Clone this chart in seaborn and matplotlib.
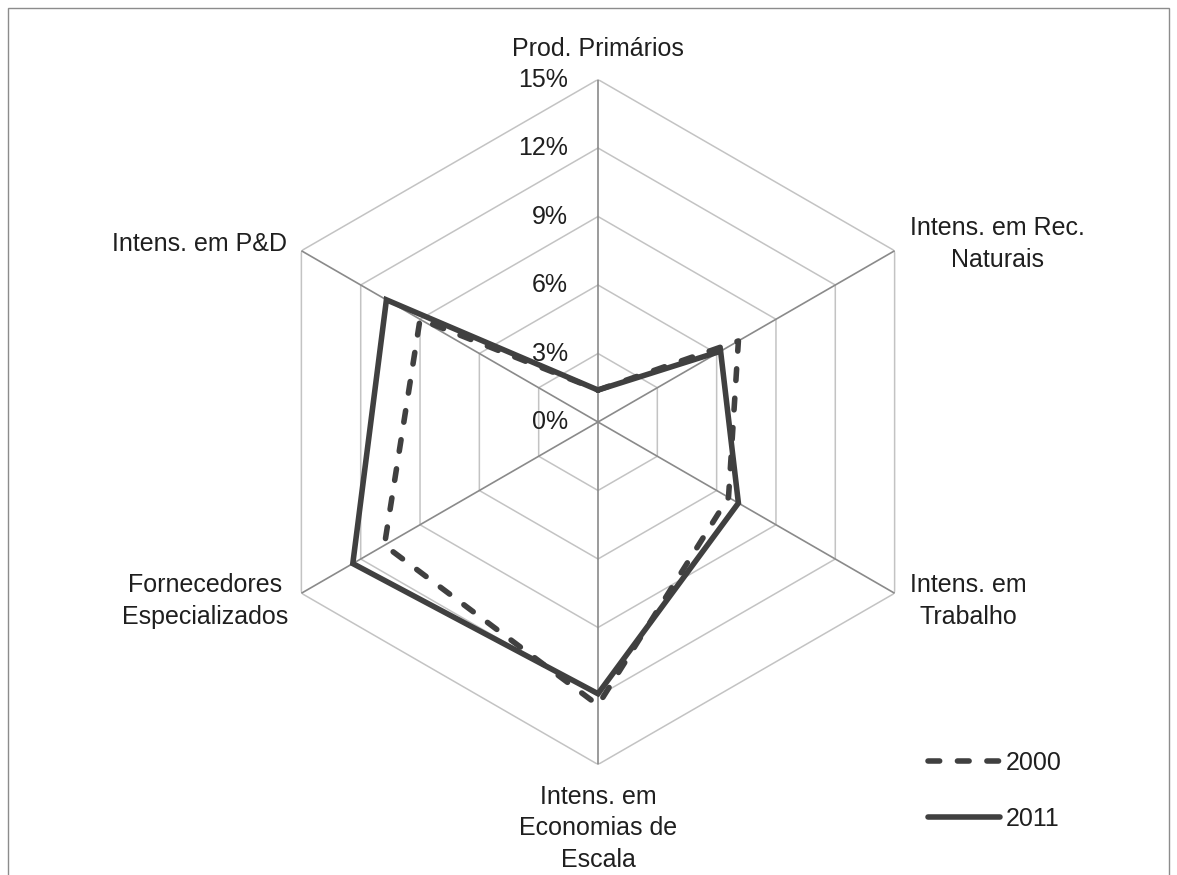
import numpy as np
import pandas as pd
import matplotlib
matplotlib.use("Agg")
import matplotlib.pyplot as plt
from matplotlib.lines import Line2D
from matplotlib.patches import Rectangle
import seaborn as sns

# Share of exports by technological intensity (%)
categories = [
    "Prod. Primários",
    "Intens. em Rec.\nNaturais",
    "Intens. em\nTrabalho",
    "Intens. em\nEconomias de\nEscala",
    "Fornecedores\nEspecializados",
    "Intens. em P&D",
]
years = ["2000", "2011"]
values_2000 = [1.4, 7.1, 6.6, 12.4, 10.8, 9.0]
values_2011 = [1.4, 6.2, 7.1, 11.9, 12.4, 10.7]
ticks = [0, 3, 6, 9, 12, 15]
tick_labels = ["0%", "3%", "6%", "9%", "12%", "15%"]

sns.set_theme(style="white")
plt.rcParams["font.family"] = ["Liberation Sans", "DejaVu Sans"]
plt.rcParams["lines.dash_capstyle"] = "round"
plt.rcParams["lines.solid_capstyle"] = "round"
plt.rcParams["lines.solid_joinstyle"] = "miter"

TEXT = "#1f1f1f"
LINE = "#404040"
RING = "#c3c3c3"
SPOKE = "#8a8a8a"
FS = 18

W, H = 1177, 875
fig = plt.figure(figsize=(W / 100, H / 100), dpi=100)
fig.patch.set_facecolor("white")

cx, cy, R = 598, 422, 342.5
ax = fig.add_axes([(cx - R) / W, (H - cy - R) / H, 2 * R / W, 2 * R / H],
                  projection="polar")
ax.set_theta_offset(np.pi / 2)
ax.set_theta_direction(-1)
ax.grid(False)
ax.spines["polar"].set_visible(False)
ax.set_facecolor("none")

n = len(categories)
angles = np.arange(n) * 2 * np.pi / n
closed = np.append(angles, 2 * np.pi)

# hexagonal grid rings and spokes
for t in ticks[1:]:
    ax.plot(closed, [t] * (n + 1), color=RING, lw=1.1, zorder=1)
for a in angles:
    ax.plot([a, a], [0, ticks[-1]], color=SPOKE, lw=1.2, zorder=1.5)

# series
rows = []
for year, vals in zip(years, [values_2000, values_2011]):
    for th, v in zip(closed, vals + vals[:1]):
        rows.append({"theta": th, "value": v, "year": year})
df = pd.DataFrame(rows)

dash_2000 = (2.1, 3.2)
sns.lineplot(data=df, x="theta", y="value", hue="year", style="year",
             palette={"2000": LINE, "2011": LINE},
             dashes={"2000": dash_2000, "2011": ""},
             sort=False, estimator=None, lw=4, legend=False, ax=ax, zorder=3)

ax.set_xticks([])
ax.set_yticks([])
ax.set_xlabel("")
ax.set_ylabel("")
ax.set_ylim(0, ticks[-1])

# radial tick labels along the top spoke
for t, lab in zip(ticks, tick_labels):
    ax.annotate(lab, xy=(0, t), xytext=(-30, 0), textcoords="offset pixels",
                ha="right", va="center", fontsize=FS, color=TEXT)

# category labels around the outer ring
label_place = [
    ((0, 31), "center", "center"),
    ((15, 7), "left", "center"),
    ((15, -8), "left", "center"),
    ((0, -20), "center", "top"),
    ((-13, -8), "right", "center"),
    ((-14, 7), "right", "center"),
]
for a, lab, (off, ha, va) in zip(angles, categories, label_place):
    ax.annotate(lab, xy=(a, ticks[-1]), xytext=off, textcoords="offset pixels",
                ha=ha, va=va, multialignment="center", fontsize=FS,
                color=TEXT, linespacing=1.42)

handles = [
    Line2D([], [], color=LINE, lw=4, dashes=dash_2000),
    Line2D([], [], color=LINE, lw=4),
]
fig.legend(handles, years, loc="center left",
           bbox_to_anchor=(928 / W, (H - 791) / H), frameon=False,
           handlelength=2.88, handletextpad=0.24, labelspacing=1.27,
           borderpad=0, borderaxespad=0, fontsize=FS, labelcolor=TEXT)

# chart frame
fig.add_artist(Rectangle((8 / W, -0.05), (1169 - 8) / W, (H - 8) / H + 0.05,
                         transform=fig.transFigure, fill=False,
                         edgecolor="#8c8c8c", lw=1.0))

fig.savefig("out.png", dpi=100, facecolor="white")
